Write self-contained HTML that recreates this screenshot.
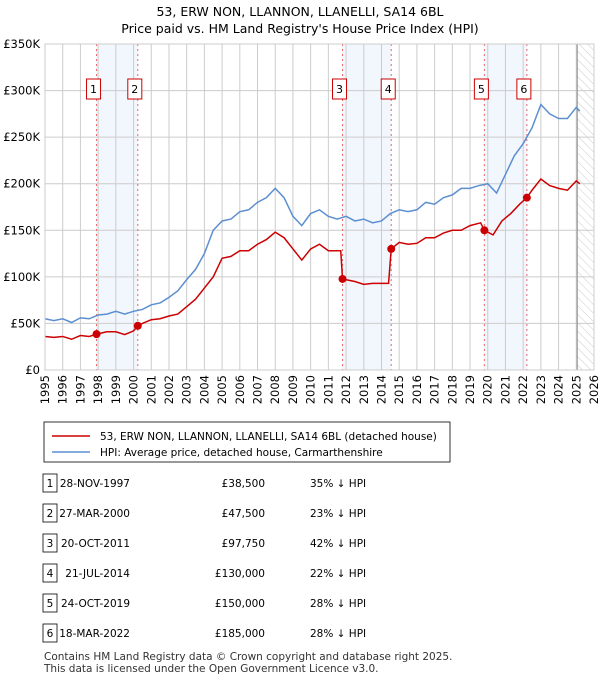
<!DOCTYPE html>
<html><head><meta charset="utf-8"><style>
body{margin:0;background:#fff;font-family:"DejaVu Sans","Liberation Sans",sans-serif;}
svg text{font-family:"DejaVu Sans","Liberation Sans",sans-serif;}
</style></head><body>
<svg id="c" width="600" height="680" xmlns="http://www.w3.org/2000/svg">
<defs><pattern id="hatch" width="6" height="6" patternUnits="userSpaceOnUse" patternTransform="rotate(-45)"><line x1="0" y1="0" x2="0" y2="6" stroke="#ccc" stroke-width="1"/></pattern></defs>
<text x="300" y="16" text-anchor="middle" font-size="12.5">53, ERW NON, LLANNON, LLANELLI, SA14 6BL</text>
<text x="300" y="33" text-anchor="middle" font-size="12.5">Price paid vs. HM Land Registry's House Price Index (HPI)</text>
<g id="plot"></g>
<g>
<rect x="44" y="422" width="406" height="40" fill="#fff" stroke="#000" stroke-width="0.8"/>
<line x1="52" y1="436" x2="90" y2="436" stroke="#cc0000" stroke-width="1.5"/>
<text x="100" y="440" font-size="10.5">53, ERW NON, LLANNON, LLANELLI, SA14 6BL (detached house)</text>
<line x1="52" y1="452" x2="90" y2="452" stroke="#5b8fd0" stroke-width="1.5"/>
<text x="100" y="456" font-size="10.5">HPI: Average price, detached house, Carmarthenshire</text>
</g>
<g id="table"></g>
<text x="44" y="660" font-size="10.5" fill="#333">Contains HM Land Registry data © Crown copyright and database right 2025.</text>
<text x="44" y="672" font-size="10.5" fill="#333">This data is licensed under the Open Government Licence v3.0.</text>
</svg>
<script>
const hpiYears=[1995,1995.5,1996,1996.5,1997,1997.5,1998,1998.5,1999,1999.5,2000,2000.5,2001,2001.5,2002,2002.5,2003,2003.5,2004,2004.5,2005,2005.5,2006,2006.5,2007,2007.5,2008,2008.5,2009,2009.5,2010,2010.5,2011,2011.5,2012,2012.5,2013,2013.5,2014,2014.5,2015,2015.5,2016,2016.5,2017,2017.5,2018,2018.5,2019,2019.5,2020,2020.5,2021,2021.5,2022,2022.5,2023,2023.5,2024,2024.5,2025,2025.2];
const hpiValues=[55,53,55,51,56,55,59,60,63,60,63,65,70,72,78,85,97,108,125,150,160,162,170,172,180,185,195,185,165,155,168,172,165,162,165,160,162,158,160,168,172,170,172,180,178,185,188,195,195,198,200,190,210,230,243,260,285,275,270,270,282,278];
const redYears=[1995,1995.5,1996,1996.5,1997,1997.5,1997.91,1998.5,1999,1999.5,2000,2000.24,2000.5,2001,2001.5,2002,2002.5,2003,2003.5,2004,2004.5,2005,2005.5,2006,2006.5,2007,2007.5,2008,2008.5,2009,2009.5,2010,2010.5,2011,2011.7,2011.8,2012.5,2013,2013.5,2014.4,2014.55,2015,2015.5,2016,2016.5,2017,2017.5,2018,2018.5,2019,2019.6,2019.81,2020.3,2020.8,2021.3,2021.8,2022.21,2022.5,2023,2023.5,2024,2024.5,2025,2025.2];
const redValues=[36,35,36,33,37,36,38.5,41,41,38,42,47.5,50,54,55,58,60,68,76,88,100,120,122,128,128,135,140,148,142,130,118,130,135,128,128,97.75,95,92,93,93,130,137,135,136,142,142,147,150,150,155,158,150,145,160,168,178,185,193,205,198,195,193,203,200];
const saleYears=[1997.91,2000.24,2011.8,2014.55,2019.81,2022.21];
const salePrices=[38500,47500,97750,130000,150000,185000];
const saleDates=["28-NOV-1997","27-MAR-2000","20-OCT-2011","21-JUL-2014","24-OCT-2019","18-MAR-2022"];
const salePriceLabels=["£38,500","£47,500","£97,750","£130,000","£150,000","£185,000"];
const saleHpiLabels=["35% ↓ HPI","23% ↓ HPI","42% ↓ HPI","22% ↓ HPI","28% ↓ HPI","28% ↓ HPI"];
const yTicks=[0,50,100,150,200,250,300,350];
const yTickLabels=["£0","£50K","£100K","£150K","£200K","£250K","£300K","£350K"];
const xTicks=[1995,1996,1997,1998,1999,2000,2001,2002,2003,2004,2005,2006,2007,2008,2009,2010,2011,2012,2013,2014,2015,2016,2017,2018,2019,2020,2021,2022,2023,2024,2025,2026];

const NS="http://www.w3.org/2000/svg";
const X0=45,X1=594,Y0=370,Y1=44;
const xs=y=>X0+(y-1995)/(2026-1995)*(X1-X0);
const ys=v=>Y0-v/350*(Y0-Y1);
const plot=document.getElementById('plot');
function mk(tag,attrs,parent){const e=document.createElementNS(NS,tag);for(const k in attrs)e.setAttribute(k,attrs[k]);(parent||plot).appendChild(e);return e;}
[[0,1],[2,3],[4,5]].forEach(p=>{
 const r=mk('rect',{x:xs(saleYears[p[0]]),y:Y1,width:xs(saleYears[p[1]])-xs(saleYears[p[0]]),height:Y0-Y1,fill:'#f2f6fd'});
 
 
});
const hx=xs(2025.05);
const hr=mk('rect',{x:hx,y:Y1,width:X1-hx,height:Y0-Y1,fill:'url(#hatch)'});


xTicks.forEach((t,i)=>{
 const l=mk('line',{x1:xs(t),x2:xs(t),y1:Y1,y2:Y0,stroke:'#ccc','stroke-width':1});
 
 
 const tx0=xs(t)+4,ty0=375;
 const tx=mk('text',{x:tx0,y:ty0,'text-anchor':'end','font-size':11.5,transform:'rotate(-90 '+tx0+' '+ty0+')'});
 tx.textContent=t;
 
 
});
yTicks.forEach((t,i)=>{
 const l=mk('line',{x1:X0,x2:X1,y1:ys(t),y2:ys(t),stroke:'#ccc','stroke-width':1});
 
 
 const tx=mk('text',{x:40,y:ys(t)+4,'text-anchor':'end','font-size':11.5});
 tx.textContent=yTickLabels[i];
 
 
});
const vl=mk('line',{x1:hx,x2:hx,y1:Y1,y2:Y0,stroke:'#888','stroke-width':1});


saleYears.forEach((s,i)=>{
 const l=mk('line',{x1:xs(s),x2:xs(s),y1:Y1,y2:Y0,stroke:'#ee6666','stroke-width':1,'stroke-dasharray':'2,3'});
 
 
});
const hp=mk('polyline',{points:hpiYears.map((y,i)=>xs(y)+','+ys(hpiValues[i])).join(' '),fill:'none',stroke:'#5b8fd0','stroke-width':1.5});


const rp=mk('polyline',{points:redYears.map((y,i)=>xs(y)+','+ys(redValues[i])).join(' '),fill:'none',stroke:'#cc0000','stroke-width':1.5});


saleYears.forEach((s,i)=>{
 const c=mk('circle',{cx:xs(s),cy:ys(salePrices[i]/1000),r:4,fill:'#cc0000'});
 
 
 const bx=xs(s)-3;
 const b=mk('rect',{x:bx-7,y:79,width:14,height:20,fill:'#fff',stroke:'#cc0000','stroke-width':1});
 
 
 const t=mk('text',{x:bx,y:93,'text-anchor':'middle','font-size':11});
 t.textContent=i+1;
 
 
});
const frame=mk('rect',{x:X0,y:Y1,width:X1-X0,height:Y0-Y1,fill:'none',stroke:'#ccc'});


const tb=document.getElementById('table');
saleYears.forEach((s,i)=>{
 const y=483+i*30;
 const b=mk('rect',{x:43,y:y-9,width:14,height:18,fill:'#fff',stroke:'#000','stroke-width':0.8},tb);
 
 
 const n=mk('text',{x:50,y:y+4,'text-anchor':'middle','font-size':10.5},tb);
 n.textContent=i+1;
 
 
 const d=mk('text',{x:130,y:y+4,'text-anchor':'end','font-size':10.5},tb);
 d.textContent=saleDates[i];
 
 
 const p=mk('text',{x:265,y:y+4,'text-anchor':'end','font-size':10.5},tb);
 p.textContent=salePriceLabels[i];
 
 
 const h=mk('text',{x:310,y:y+4,'font-size':10.5},tb);
 h.textContent=saleHpiLabels[i];
 
 
});
</script>
</body></html>
